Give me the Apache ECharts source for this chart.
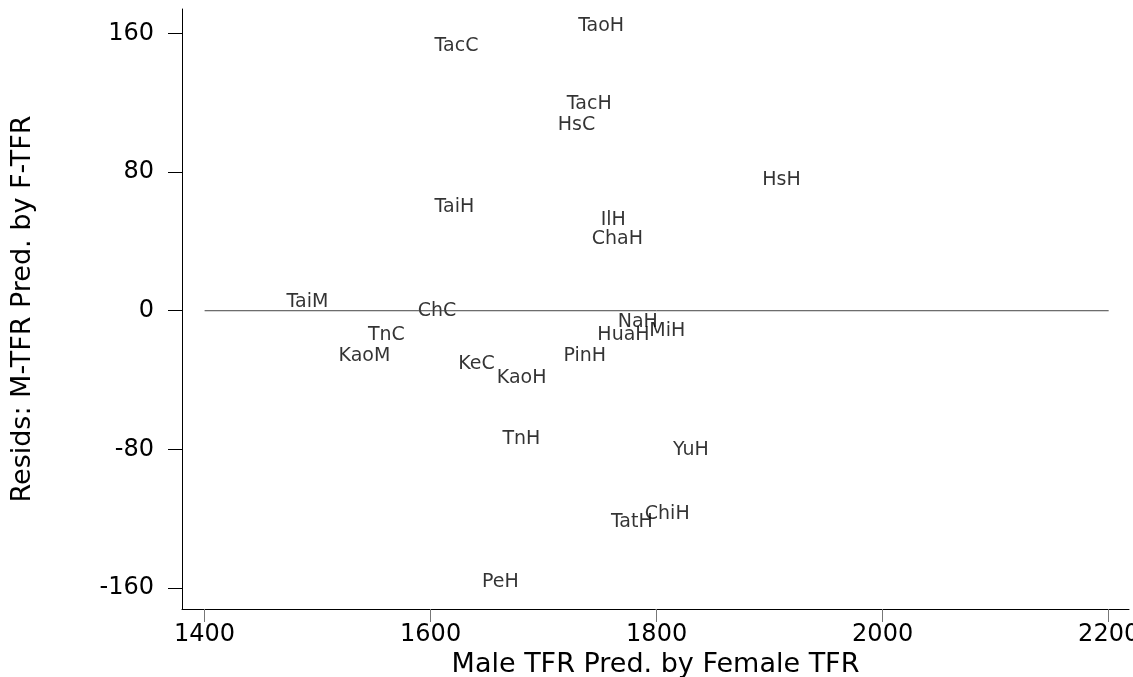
<!DOCTYPE html>
<html>
<head>
<meta charset="utf-8">
<script src="https://cdn.jsdelivr.net/npm/echarts@6/dist/echarts.min.js"></script>
<style>
html, body { margin: 0; padding: 0; background: #fff; }
#main { width: 1133px; height: 677px; }
</style>
</head>
<body>
<div id="main"></div>
<script>
var myChart = echarts.init(document.getElementById('main'));

// places, male TFR predicted by female TFR, and the residuals
var places = ['TaoH', 'TacC', 'TacH', 'HsC', 'HsH', 'TaiH', 'IlH', 'ChaH',
    'TaiM', 'ChC', 'TnC', 'KaoM', 'KeC', 'KaoH', 'PinH', 'NaH', 'HuaH', 'MiH',
    'TnH', 'YuH', 'TatH', 'ChiH', 'PeH'];
var predTFR = [1727, 1600, 1717, 1709, 1890, 1600, 1747, 1739,
    1469, 1585, 1541, 1515, 1621, 1655, 1714, 1762, 1744, 1790,
    1660, 1811, 1756, 1786, 1642];
var resids = [164, 152.5, 119, 107, 75.5, 59.5, 52, 41.5,
    5, 0, -14, -26, -31, -39, -26, -6.5, -14, -12,
    -74, -80.5, -122, -117.5, -156.5];

var xTicks = [1400, 1600, 1800, 2000, 2200];
var yTicks = [-160, -80, 0, 80, 160];
var zeroLineX = [1400, 2200];

var pts = [];
for (var i = 0; i < places.length; i++) {
    pts.push([predTFR[i], resids[i], places[i]]);
}
var zeroLine = zeroLineX.map(function (x) { return [x, 0]; });

var font = 'DejaVu Sans';

var option = {
    backgroundColor: '#ffffff',
    animation: false,
    grid: {
        left: 182,
        right: 4,
        top: 9,
        bottom: 68,
        outerBoundsMode: 'none',
        containLabel: false,
    },
    xAxis: {
        type: 'value',
        min: 1380,
        max: 2218,
        name: 'Male TFR Pred. by Female TFR',
        nameLocation: 'middle',
        nameGap: 37,
        nameTextStyle: {
            fontFamily: font,
            fontSize: 27,
            color: '#000',
        },
        axisLine: {
            onZero: false,
            lineStyle: { color: '#000', width: 1 },
        },
        axisTick: {
            customValues: xTicks,
            length: 13,
            lineStyle: { color: '#777', width: 1 },
        },
        axisLabel: {
            customValues: xTicks,
            margin: 14,
            fontFamily: font,
            fontSize: 24,
            color: '#000',
            formatter: function (v) { return String(v); },
        },
        splitLine: { show: false },
    },
    yAxis: {
        type: 'value',
        min: -172,
        max: 174,
        name: 'Resids: M-TFR Pred. by F-TFR',
        nameLocation: 'middle',
        nameGap: 146,
        nameTextStyle: {
            fontFamily: font,
            fontSize: 27,
            color: '#000',
        },
        axisLine: {
            show: true,
            onZero: false,
            lineStyle: { color: '#000', width: 1 },
        },
        axisTick: {
            show: true,
            customValues: yTicks,
            length: 14,
            lineStyle: { color: '#000', width: 1 },
        },
        axisLabel: {
            customValues: yTicks,
            margin: 28,
            fontFamily: font,
            fontSize: 24,
            color: '#000',
            formatter: function (v) { return String(v); },
        },
        splitLine: { show: false },
    },
    series: [{
        type: 'line',
        data: zeroLine,
        symbol: 'none',
        silent: true,
        lineStyle: { color: '#444', width: 1 },
    }, {
        type: 'scatter',
        data: pts,
        symbolSize: 0,
        label: {
            show: true,
            position: 'right',
            distance: 4,
            formatter: function (p) { return p.data[2]; },
            fontFamily: font,
            fontSize: 19,
            color: '#000',
        },
    }]
};
myChart.setOption(option);
</script>
</body>
</html>
